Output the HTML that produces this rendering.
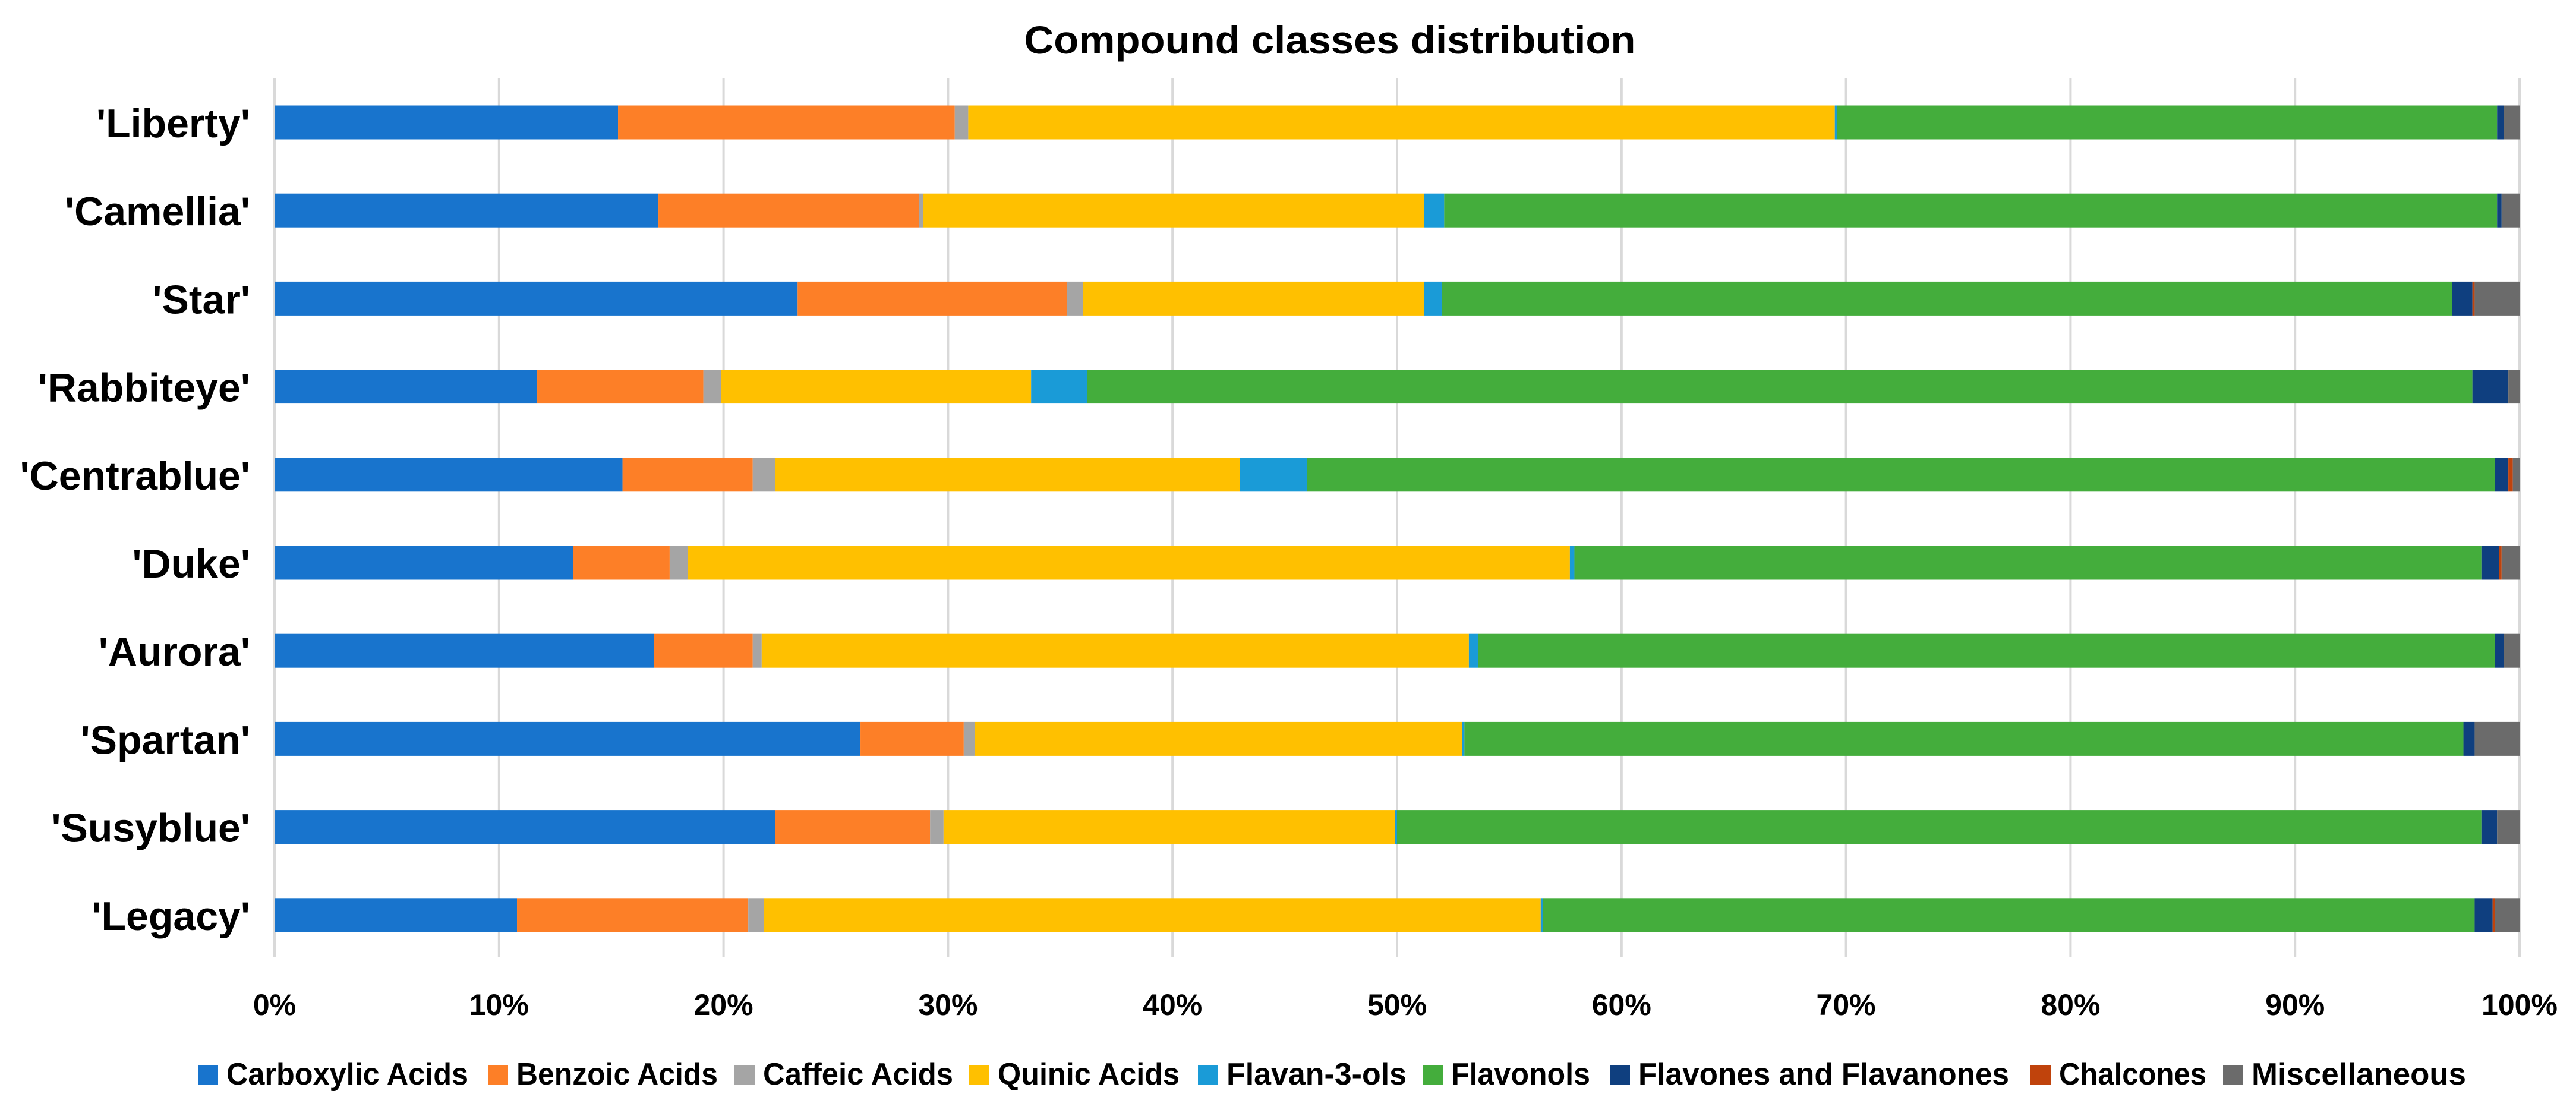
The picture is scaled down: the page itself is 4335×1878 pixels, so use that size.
<!DOCTYPE html>
<html><head><meta charset="utf-8"><style>
html,body{margin:0;padding:0;background:#fff;}
svg{display:block;}
text{font-family:"Liberation Sans",sans-serif;fill:#000;}
</style></head><body>
<svg id="chart" xmlns="http://www.w3.org/2000/svg" width="4335" height="1878" viewBox="0 0 4335 1878">
<rect x="0" y="0" width="4335" height="1878" fill="#fff"/>
<text x="2238" y="90" font-size="66" font-weight="bold" text-anchor="middle" textLength="1029" lengthAdjust="spacingAndGlyphs">Compound classes distribution</text>
<g id="grid"></g><g id="bars"></g><g id="ylabels"></g><g id="xlabels"></g><g id="legend"></g>
</svg>
<script>
const categories = ["'Liberty'","'Camellia'","'Star'","'Rabbiteye'","'Centrablue'","'Duke'","'Aurora'","'Spartan'","'Susyblue'","'Legacy'"];
const seriesNames = ["Carboxylic Acids","Benzoic Acids","Caffeic Acids","Quinic Acids","Flavan-3-ols","Flavonols","Flavones and Flavanones","Chalcones","Miscellaneous"];
const carboxylic = [15.3,17.1,23.3,11.7,15.5,13.3,16.9,26.1,22.3,10.8];
const benzoic = [15.0,11.6,12.0,7.4,5.8,4.3,4.4,4.6,6.9,10.3];
const caffeic = [0.6,0.2,0.7,0.8,1.0,0.8,0.4,0.5,0.6,0.7];
const quinic = [38.6,22.3,15.2,13.8,20.7,39.3,31.5,21.7,20.1,34.6];
const flavan = [0.1,0.9,0.8,2.5,3.0,0.2,0.4,0.1,0.1,0.1];
const flavonols = [29.4,46.9,45.0,61.7,52.9,40.4,45.3,44.5,48.3,41.5];
const flavones = [0.3,0.2,0.9,1.6,0.6,0.8,0.4,0.5,0.7,0.8];
const chalcones = [0,0,0.1,0,0.2,0.1,0,0,0,0.1];
const misc = [0.7,0.8,2.0,0.5,0.3,0.8,0.7,2.0,1.0,1.1];
const tickLabels = ["0%","10%","20%","30%","40%","50%","60%","70%","80%","90%","100%"];

const series=[carboxylic,benzoic,caffeic,quinic,flavan,flavonols,flavones,chalcones,misc];
const colors=["#1874cd","#fd7f27","#a5a5a5","#ffc000","#1a9bd7","#44ad3c","#0f3f7f","#c0430c","#6b6b6b"];
const NS="http://www.w3.org/2000/svg";
const X0=462,X1=4240,PT=132,PB=1611,BAR0=206,PITCH=148.2,BH=57;
function xScale(f){return X0+f*(X1-X0);}
function yScale(i){return BAR0+i*PITCH;}
function mk(tag,attrs,parent){const e=document.createElementNS(NS,tag);for(const k in attrs)e.setAttribute(k,attrs[k]);parent.appendChild(e);return e;}
const grid=document.getElementById('grid');
tickLabels.forEach((t,i)=>{
  const x=xScale(i/(tickLabels.length-1));
  const l=mk('line',{x1:x,x2:x,y1:PT,y2:PB,stroke:'#d9d9d9','stroke-width':4},grid);
  
  
  const tx=mk('text',{x:x,y:1708,'font-size':50,'font-weight':'bold','text-anchor':'middle'},document.getElementById('xlabels'));
  tx.textContent=t;
  
  
});
const bars=document.getElementById('bars');
categories.forEach((c,i)=>{
  let total=0;series.forEach(s=>total+=s[i]);
  let acc=0;const yc=yScale(i);
  series.forEach((s,k)=>{
    const v=s[i];if(v<=0){return;}
    const xa=xScale(acc/total),xb=xScale((acc+v)/total);acc+=v;
    const r=mk('rect',{x:xa,y:yc-BH/2,width:Math.max(0,xb-xa),height:BH,fill:colors[k]},bars);
    
    
  });
  const t=mk('text',{x:421,y:yc+25,'font-size':68,'font-weight':'bold','text-anchor':'end'},document.getElementById('ylabels'));
  t.textContent=c;
  
  
});
const legX=[333,821,1236,1631,2016,2394,2709,3417,3741];
const legTextEnd=[788,1208,1604,1985,2367,2676,3381,3713,4150];
const leg=document.getElementById('legend');
seriesNames.forEach((n,k)=>{
  const g=mk('g',{},leg);
  
  
  mk('rect',{x:legX[k],y:1792,width:34,height:34,fill:colors[k]},g);
  const tx=legX[k]+48;
  const t=mk('text',{x:tx,y:1825,'font-size':52,'font-weight':'bold',textLength:legTextEnd[k]-tx,lengthAdjust:'spacingAndGlyphs'},g);
  t.textContent=n;
});
</script>
</body></html>
